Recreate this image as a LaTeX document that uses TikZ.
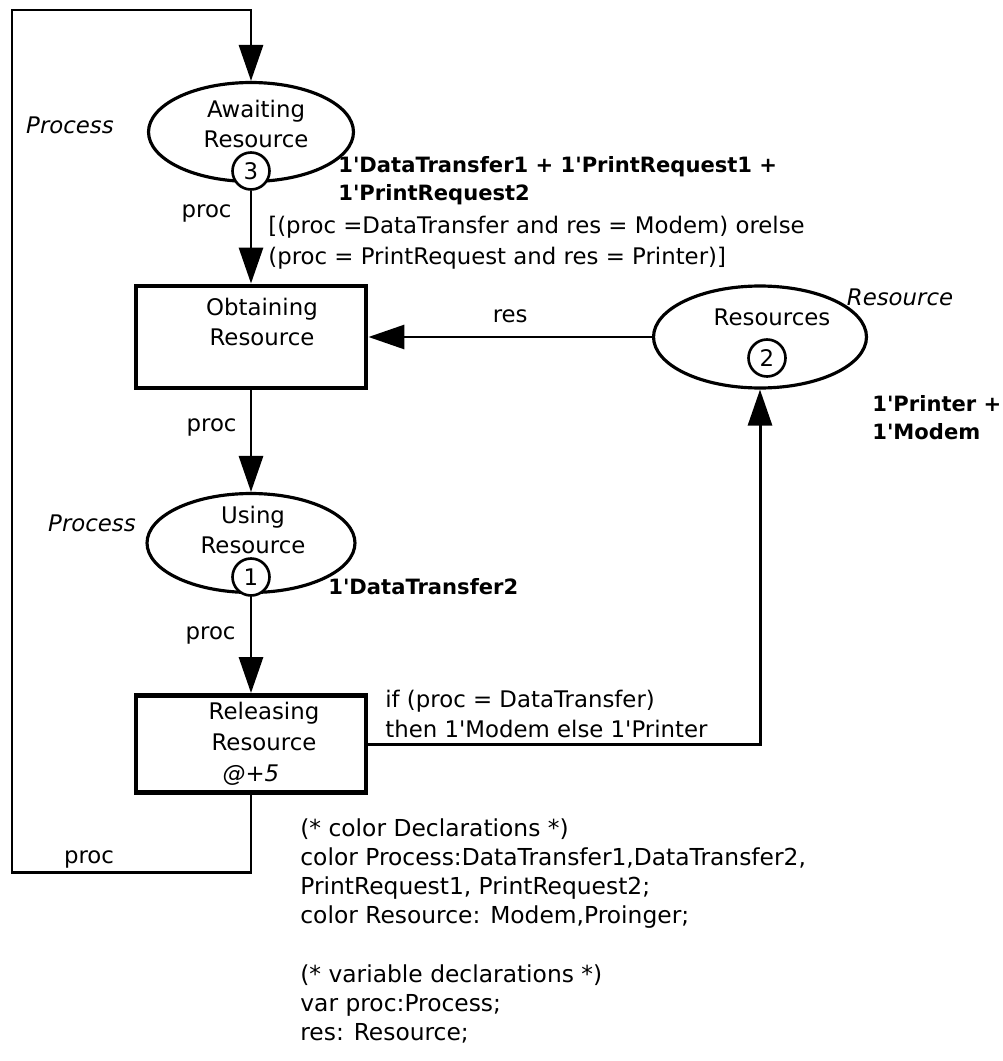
\documentclass[tikz,border=0pt]{standalone}
\usepackage{fontspec}
\setmainfont[Ligatures=TeXOff]{DejaVu Sans}
\usetikzlibrary{arrows.meta, positioning, shapes.geometric}

\begin{document}
\begin{tikzpicture}[x=0.02cm, y=-0.02cm,
			font=\fontsize{13pt}{17.5pt}\selectfont,
			% places, transitions and tokens
			place/.style={
				ellipse,
				draw,
				line width=1.8pt,
				minimum width=4.1cm,
				minimum height=1.98cm,
				inner sep=0pt
			},
			transition/.style={
				rectangle,
				draw,
				line width=2.8pt,
				minimum width=4.6cm,
				minimum height=2cm,
				inner sep=0pt
			},
			token/.style={
				circle,
				draw,
				fill=white,
				line width=1.5pt,
				minimum size=0.74cm,
				inner sep=0pt
			},
			% arcs and inscriptions
			netarc/.style={
				-{Triangle[length=0.72cm, width=0.48cm]},
				line width=1.7pt
			},
			lbl/.style={inner sep=0pt},
			inscr/.style={inner sep=0pt, align=left, anchor=west},
			initmark/.style={inscr, font=\fontsize{12pt}{16pt}\selectfont\bfseries},
			colset/.style={inner sep=0pt, font=\fontsize{13pt}{17.5pt}\selectfont\itshape}
			]
			
			\fill[white] (0,0) rectangle (1003,1061);
			\useasboundingbox (0,0) rectangle (1003,1061);
			
			% places and transitions
			\node[place, label={[align=center, xshift=0.1cm, yshift=0.16cm]center:Awaiting\\Resource}] (await) at (251,132) {};
			\node[token] (tok3) at (251,171) {3};
			
			\node[transition, minimum height=2.04cm, label={[align=center, xshift=0.22cm, yshift=0.3cm]center:Obtaining\\Resource}] (obtain) at (251,337) {};
			
			\node[place, minimum width=4.16cm, label={[align=center, xshift=0.04cm, yshift=0.26cm]center:Using\\Resource}] (using) at (251,543) {};
			\node[token] (tok1) at (251,577) {1};
			
			\node[transition, minimum height=1.94cm, label={[align=center, xshift=0.26cm]center:Releasing\\Resource\\\hspace*{-0.52cm}\textit{@+5}}] (rel) at (251,744) {};
			
			\node[place, minimum width=4.26cm, minimum height=2.04cm, label={[xshift=0.24cm, yshift=0.4cm]center:Resources}] (res) at (760,337) {};
			\node[token] (tok2) at (767,358) {2};
			
			% colour sets and initial markings
			\node[colset] (awaitcol) at (70,125) {Process};
			\node[colset] (usingcol) at (92,523) {Process};
			\node[colset] (rescol) at (900,297) {Resource};
			\node[initmark] (awaitinit) at (338,181) {1'DataTransfer1 + 1'PrintRequest1 +\\1'PrintRequest2};
			\node[initmark] (usinginit) at (328,587) {1'DataTransfer2};
			\node[initmark] (resinit) at (872,418) {1'Printer +\\1'Modem};
			
			% guard and arc expression
			\node[inscr] (guard) at (268,243) {[(proc =DataTransfer and res = Modem) orelse\\(proc = PrintRequest and res = Printer)]};
			\node[inscr] (relexpr) at (385,714) {if (proc = DataTransfer)\\then 1'Modem else 1'Printer};
			
			% declarations
			\node[inscr, anchor=north west, font=\fontsize{13.3pt}{16.6pt}\selectfont] (decls) at (300,818) {(* color Declarations *)\\color Process:DataTransfer1,DataTransfer2,\\PrintRequest1, PrintRequest2;\\color Resource: Modem,Proinger;\\[17pt](* variable declarations *)\\var proc:Process;\\res: Resource;};
			
			% arcs
			\draw[netarc] (tok3) -- node[lbl, left=0.36cm, pos=0.24] {proc} (obtain);
			\draw[netarc] (obtain) -- node[lbl, left=0.26cm, pos=0.36] {proc} (using);
			\draw[netarc] (tok1) -- node[lbl, left=0.28cm, pos=0.4] {proc} (rel);
			\draw[netarc] (res) -- node[lbl, above=0.26cm] {res} (obtain);
			\draw[netarc] (rel.east) -| (res.south);
			
			\coordinate (loopsw) at (12,872);
			\coordinate (loopnw) at (12,10);
			\draw[netarc] (rel.south) |- (loopsw) -- (loopnw) -| (await.north);
			\node[lbl] (loopproc) at (89,859) {proc};
			
		\end{tikzpicture}
\end{document}
